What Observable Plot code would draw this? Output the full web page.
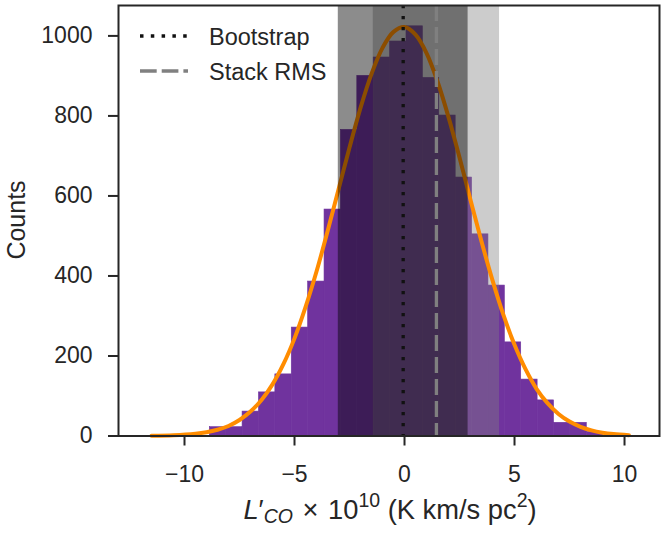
<!DOCTYPE html>
<html><head><meta charset="utf-8">
<script src="https://cdn.jsdelivr.net/npm/d3@7"></script>
<script src="https://cdn.jsdelivr.net/npm/@observablehq/plot@0.6"></script>
<style>
html,body{margin:0;padding:0;background:#fff;}
#chart{position:relative;width:667px;height:533px;}
</style>
</head><body>
<div id="chart"></div>
<script>
// Histogram bin edges (L'CO x 1e10) and counts
const binEdges = [-8.85, -8.105, -7.36, -6.615, -5.87, -5.125, -4.38, -3.635, -2.89, -2.145, -1.4, -0.655, 0.09, 0.835, 1.58, 2.325, 3.07, 3.815, 4.56, 5.305, 6.05, 6.795, 7.54, 8.285, 9.03];
const binCounts = [22, 22, 61, 109, 154, 271, 386, 566, 765, 900, 946, 986, 1024, 895, 801, 646, 504, 376, 234, 141, 89, 33, 33, 10];

// Fitted curve, points
const fitX = [-11.5, -10.5, -9.5, -9, -8.5, -8, -7.5, -7, -6.5, -6, -5.5, -5, -4.5, -4, -3.5, -3, -2.5, -2, -1.5, -1, -0.5, 0, 0.5, 1, 1.5, 2, 2.5, 3, 3.5, 4, 4.5, 5, 5.5, 6, 6.5, 7, 7.5, 8, 8.5, 9, 9.5, 10.2];
const fitCounts = [0.5, 1.7, 5.5, 9.4, 15.7, 25, 40, 61, 90, 129, 180, 244, 322, 411, 511, 616, 721, 820, 905, 970, 1010, 1022, 1003, 957, 886, 797, 696, 590, 486, 389, 302, 228, 167, 118, 82, 55, 36, 23, 14, 8.3, 4.8, 2.1];

// Reference lines and ±1σ bands
const bootstrap = {center: -0.06, sigma: 2.95};
const stackRMS = {center: 1.45, sigma: 2.87};

const xTicks = [-10, -5, 0, 5, 10];
const yTicks = [0, 200, 400, 600, 800, 1000];
const legendLabels = ["Bootstrap", "Stack RMS"];

const bins = binCounts.map((c, i) => ({x1: binEdges[i], x2: binEdges[i + 1], count: c}));
const fit = fitX.map((x, i) => ({x, count: fitCounts[i]}));

const ink = "#262626";
const purple = "#70339e";
const font = "'Liberation Sans', Arial, sans-serif";

const plot = Plot.plot({
  width: 667, height: 533,
  marginLeft: 118, marginRight: 8, marginTop: 5, marginBottom: 97.5,
  style: {fontFamily: font, fontSize: "23px", color: ink, background: "#fff", overflow: "visible"},
  x: {domain: [-13, 11.59]},
  y: {domain: [0, 1076]},
  marks: [
    Plot.rectY(bins, {x1: "x1", x2: "x2", y: "count", fill: purple, stroke: purple, strokeWidth: 0.6}),
    Plot.rect([stackRMS], {x1: d => d.center - d.sigma, x2: d => d.center + d.sigma, fill: "#808080", fillOpacity: 0.4}),
    Plot.line(fit, {x: "x", y: "count", stroke: "#ff8c00", strokeWidth: 4, curve: "catmull-rom"}),
    Plot.rect([bootstrap], {x1: d => d.center - d.sigma, x2: d => d.center + d.sigma, fill: "#000", fillOpacity: 0.45}),
    Plot.ruleX([bootstrap], {x: "center", stroke: "#111", strokeWidth: 3.3, strokeDasharray: "3.3,7.7"}),
    Plot.ruleX([stackRMS], {x: "center", stroke: "#808080", strokeWidth: 3.3, strokeDasharray: "16,6"}),
    Plot.frame({stroke: ink, strokeWidth: 2}),
    Plot.axisX({ticks: xTicks, tickSize: 10, tickPadding: 20, tickFormat: d3.format("d"), label: null, stroke: ink, strokeWidth: 2}),
    Plot.axisY({ticks: yTicks, tickSize: 10, tickPadding: 16, tickFormat: d3.format("d"), label: null, stroke: ink, strokeWidth: 2})
  ]
});

document.getElementById("chart").appendChild(plot);
const svg = d3.select(plot);

// x-axis label with math formatting
const xl = svg.append("text")
  .attr("x", 390).attr("y", 519)
  .attr("text-anchor", "middle").attr("fill", ink)
  .attr("font-family", font).attr("font-size", 27.3);
xl.append("tspan").attr("font-style", "italic").text("L");
xl.append("tspan").text("\u2032");
xl.append("tspan").attr("font-style", "italic").attr("font-size", 19.5).attr("dy", 4).text("CO");
xl.append("tspan").attr("dy", -4).attr("dx", 2).text(" \u00d7");
xl.append("tspan").attr("dx", 2).text(" 10");
xl.append("tspan").attr("font-size", 19.5).attr("dy", -12).text("10");
xl.append("tspan").attr("dy", 12).text(" (K km/s pc");
xl.append("tspan").attr("font-size", 19.5).attr("dy", -12).text("2");
xl.append("tspan").attr("dy", 12).text(")");

// y-axis label
svg.append("text")
  .attr("transform", "translate(25,220) rotate(-90)")
  .attr("text-anchor", "middle").attr("fill", ink)
  .attr("font-family", font).attr("font-size", 25)
  .text("Counts");

// Legend (upper left, inside the axes)
const lg = svg.append("g").attr("font-family", font).attr("font-size", 23.5)
  .attr("fill", ink).attr("text-anchor", "start");
const legendStyles = [
  {stroke: "#111", dash: "3.5,7.3", cy: 36, base: 45},
  {stroke: "#808080", dash: "16.7,5", cy: 71, base: 80}
];
legendLabels.forEach((lab, i) => {
  const s = legendStyles[i];
  lg.append("line").attr("x1", 140).attr("x2", 188).attr("y1", s.cy).attr("y2", s.cy)
    .attr("stroke", s.stroke).attr("stroke-width", 3.3).attr("stroke-dasharray", s.dash);
  lg.append("text").attr("x", 209).attr("y", s.base).attr("text-anchor", "start").text(lab);
});
</script>
</body></html>
